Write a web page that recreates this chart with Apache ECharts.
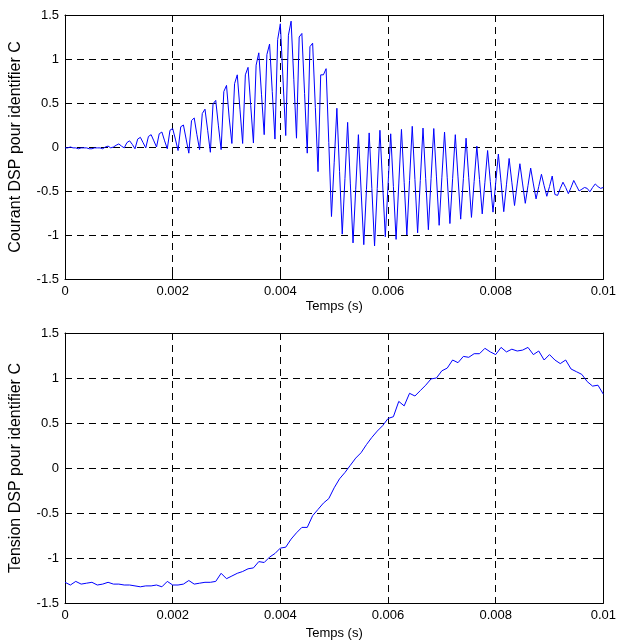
<!DOCTYPE html>
<html>
<head>
<meta charset="utf-8">
<script src="https://cdn.jsdelivr.net/npm/echarts@6/dist/echarts.min.js"></script>
<style>
html,body{margin:0;padding:0;background:#fff;}
#chart{width:619px;height:642px;}
</style>
</head>
<body>
<div id="chart"></div>
<script>
// ---- Data ----
const xTicks = [0, 0.002, 0.004, 0.006, 0.008, 0.01];
const yTicks = [-1.5, -1, -0.5, 0, 0.5, 1, 1.5];
const xLabel = 'Temps (s)';
const yLabelTop = 'Courant DSP pour identifier C';
const yLabelBottom = 'Tension DSP pour identifier C';

// Courant: sampled every 0.00005 s
const courantDt = 0.00005;
const courant = [
 -0.01, -0.01, 0.00, -0.01, -0.01, -0.02, -0.01, -0.01, -0.01, -0.02, -0.02, -0.01, -0.01, -0.01, -0.02, 0.00, 0.01, -0.01, 0.00, 0.02,
 0.035, 0.01, -0.01, 0.05, 0.07, 0.03, -0.02, 0.09, 0.11, 0.05, -0.01, 0.12, 0.14, 0.07, 0.00, 0.15, 0.17, 0.07, -0.02, 0.19,
 0.21, 0.09, -0.04, 0.23, 0.25, 0.09, -0.07, 0.30, 0.33, 0.14, -0.03, 0.38, 0.43, 0.19, -0.06, 0.49, 0.53, 0.24, -0.03, 0.63,
 0.70, 0.33, 0.04, 0.72, 0.82, 0.43, 0.04, 0.82, 0.905, 0.47, 0.045, 0.93, 1.07, 0.60, 0.14, 1.05, 1.17, 0.63, 0.09, 1.22,
 1.40, 0.76, 0.13, 1.27, 1.43, 0.77, 0.10, 1.25, 1.29, 0.61, -0.07, 1.14, 1.18, 0.45, -0.28, 0.82, 0.82, 0.89, 0.05, -0.79,
 -0.18, 0.44, -0.28, -0.99, -0.36, 0.28, -0.41, -1.09, -0.48, 0.14, -0.49, -1.11, -0.48, 0.16, -0.47, -1.125, -0.47, 0.19, -0.42, -1.02,
 -0.44, 0.15, -0.45, -1.05, -0.42, 0.20, -0.40, -1.00, -0.38, 0.235, -0.37, -0.975, -0.38, 0.215, -0.36, -0.94, -0.36, 0.21, -0.34, -0.89,
 -0.35, 0.17, -0.35, -0.87, -0.36, 0.14, -0.34, -0.82, -0.36, 0.10, -0.35, -0.80, -0.39, 0.01, -0.37, -0.76, -0.40, -0.04, -0.39, -0.74,
 -0.41, -0.08, -0.40, -0.735, -0.43, -0.13, -0.40, -0.665, -0.42, -0.19, -0.42, -0.64, -0.44, -0.24, -0.42, -0.59, -0.45, -0.31, -0.44, -0.56,
 -0.45, -0.33, -0.54, -0.55, -0.47, -0.40, -0.46, -0.53, -0.46, -0.38, -0.44, -0.50, -0.48, -0.46, -0.47, -0.51, -0.46, -0.42, -0.45, -0.47, -0.46
];

// Tension: sampled every 0.0001 s
const tensionDt = 0.0001;
const tension = [
 -1.27, -1.30, -1.26, -1.29, -1.28, -1.27, -1.30, -1.29, -1.27, -1.29,
 -1.29, -1.30, -1.30, -1.31, -1.32, -1.31, -1.31, -1.30, -1.32, -1.26,
 -1.30, -1.30, -1.29, -1.25, -1.29, -1.28, -1.27, -1.27, -1.26, -1.17,
 -1.23, -1.20, -1.17, -1.15, -1.12, -1.11, -1.04, -1.05, -0.99, -0.95,
 -0.89, -0.88, -0.79, -0.72, -0.66, -0.66, -0.53, -0.46, -0.39, -0.34,
 -0.22, -0.12, -0.05, 0.03, 0.11, 0.17, 0.26, 0.34, 0.41, 0.47,
 0.55, 0.57, 0.74, 0.69, 0.83, 0.80, 0.86, 0.92, 0.99, 1.00,
 1.08, 1.11, 1.20, 1.17, 1.24, 1.23, 1.27, 1.27, 1.33, 1.29,
 1.26, 1.34, 1.29, 1.32, 1.30, 1.31, 1.34, 1.26, 1.30, 1.20,
 1.26, 1.20, 1.16, 1.20, 1.10, 1.07, 1.04, 0.96, 0.91, 0.92,
 0.82
];

// ---- Chart ----
const FONT = '"Liberation Sans", Arial, Helvetica, sans-serif';
const gridDash = { color: '#000', type: [7, 5], width: 1 };
const frame = { show: true, onZero: false, lineStyle: { color: '#000', width: 1 } };
const tick = { show: true, inside: true, length: 5, lineStyle: { color: '#000' } };

function xAxes(gi, nameGap) {
  const xMin = xTicks[0], xMax = xTicks[xTicks.length - 1], xInt = xTicks[1] - xTicks[0];
  return [
    {
      type: 'value', gridIndex: gi, position: 'bottom', min: xMin, max: xMax, interval: xInt,
      name: xLabel, nameLocation: 'middle', nameGap: nameGap,
      nameTextStyle: { fontFamily: FONT, fontSize: 13, color: '#000' },
      axisLine: frame, axisTick: tick,
      axisLabel: { fontFamily: FONT, fontSize: 13, color: '#000', margin: 6,
        formatter: v => String(+v.toFixed(4)) },
      splitLine: { show: true, lineStyle: gridDash }
    },
    {
      type: 'value', gridIndex: gi, position: 'top', min: xMin, max: xMax, interval: xInt,
      axisLine: frame, axisTick: tick,
      axisLabel: { show: false }, splitLine: { show: false }
    }
  ];
}
function yAxes(gi, name) {
  const yMin = yTicks[0], yMax = yTicks[yTicks.length - 1], yInt = yTicks[1] - yTicks[0];
  return [
    {
      type: 'value', gridIndex: gi, position: 'left', min: yMin, max: yMax, interval: yInt,
      name: name, nameLocation: 'middle', nameGap: 41, nameRotate: 90,
      nameTextStyle: { fontFamily: FONT, fontSize: 16, color: '#000' },
      axisLine: frame, axisTick: tick,
      axisLabel: { fontFamily: FONT, fontSize: 13, color: '#000', margin: 6,
        formatter: v => String(+v.toFixed(2)) },
      splitLine: { show: true, lineStyle: gridDash }
    },
    {
      type: 'value', gridIndex: gi, position: 'right', min: yMin, max: yMax, interval: yInt,
      axisLine: frame, axisTick: tick,
      axisLabel: { show: false }, splitLine: { show: false }
    }
  ];
}

const chart = echarts.init(document.getElementById('chart'), null, { renderer: 'canvas' });
chart.setOption({
  animation: false,
  backgroundColor: '#fff',
  grid: [
    { left: 63, top: 15, width: 542, height: 264 },
    { left: 63, top: 333, width: 543, height: 270 }
  ],
  xAxis: [...xAxes(0, 21), ...xAxes(1, 24)],
  yAxis: [...yAxes(0, yLabelTop), ...yAxes(1, yLabelBottom)],
  series: [
    {
      type: 'line', xAxisIndex: 0, yAxisIndex: 0, showSymbol: false, symbol: 'none',
      lineStyle: { color: '#0000ff', width: 1 },
      data: courant.map((v, i) => [i * courantDt, v])
    },
    {
      type: 'line', xAxisIndex: 2, yAxisIndex: 2, showSymbol: false, symbol: 'none',
      lineStyle: { color: '#0000ff', width: 1 },
      data: tension.map((v, i) => [i * tensionDt, v])
    }
  ]
});
</script>
</body>
</html>
